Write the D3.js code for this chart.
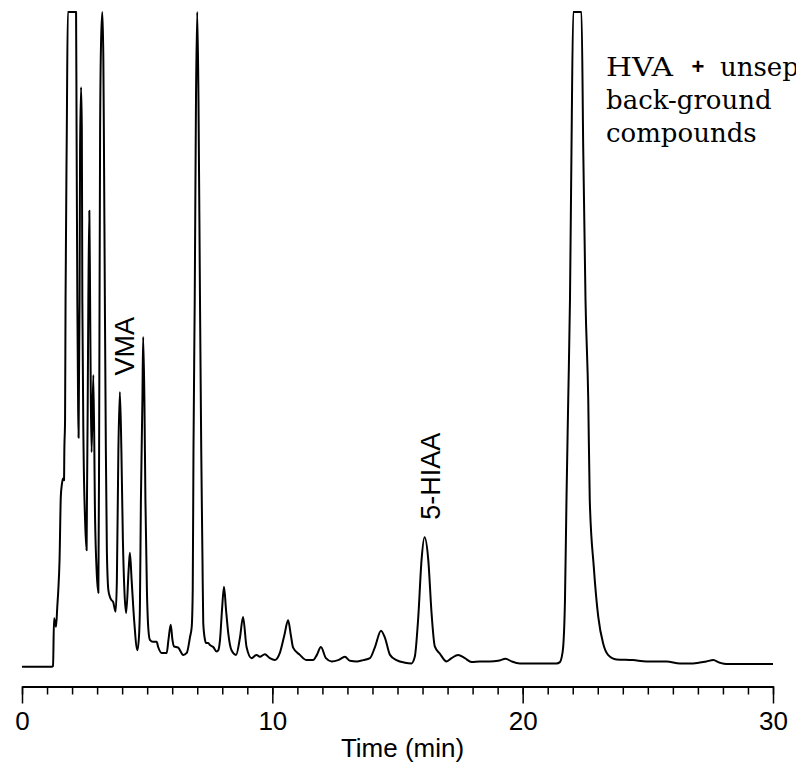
<!DOCTYPE html>
<html>
<head>
<meta charset="utf-8">
<script src="https://cdn.jsdelivr.net/npm/d3@7"></script>
<style>
  html, body { margin: 0; padding: 0; background: #fff; }
  svg { display: block; }
</style>
</head>
<body>
<svg id="chart" width="796" height="767"></svg>
<script>
// Retention time (min)
const timeMin = [
  0.00, 1.19, 1.24, 1.28, 1.36, 1.41, 1.45, 1.50, 1.55, 1.59, 1.65, 1.68, 1.69, 1.72, 1.74, 1.79, 1.83,
  2.16, 2.18, 2.21, 2.24, 2.26, 2.30, 2.32, 2.36, 2.39, 2.41, 2.46, 2.52, 2.58, 2.65, 2.69, 2.72, 2.75,
  2.78, 2.85, 2.92, 2.98, 3.05, 3.08, 3.12, 3.16, 3.21, 3.25, 3.27, 3.31, 3.35, 3.39, 3.45, 3.51, 3.57,
  3.64, 3.74, 3.79, 3.85, 3.91, 3.97, 4.03, 4.09, 4.16, 4.26, 4.31, 4.38, 4.48, 4.61, 4.68, 4.71, 4.75,
  4.81, 4.84, 4.89, 4.93, 4.99, 5.05, 5.11, 5.23, 5.38, 5.44, 5.58, 5.78, 5.85, 5.94, 6.01, 6.07, 6.24,
  6.44, 6.58, 6.71, 6.78, 6.82, 6.85, 6.90, 6.95, 7.00, 7.05, 7.11, 7.16, 7.21, 7.24, 7.31, 7.35, 7.44,
  7.51, 7.64, 7.78, 7.84, 7.91, 7.99, 8.07, 8.15, 8.24, 8.37, 8.55, 8.71, 8.83, 8.97, 9.17, 9.37, 9.50,
  9.70, 9.90, 10.10, 10.30, 10.48, 10.63, 10.74, 10.83, 11.10, 11.37, 11.63, 11.78, 11.94, 12.14, 12.37,
  12.63, 12.90, 13.10, 13.37, 13.63, 13.90, 14.10, 14.34, 14.50, 14.70, 14.96, 15.30, 15.56, 15.69, 15.83,
  15.96, 16.08, 16.23, 16.36, 16.49, 16.69, 16.96, 17.16, 17.42, 17.69, 17.96, 18.29, 18.69, 19.02, 19.32,
  19.56, 19.89, 20.69, 21.35, 21.49, 21.55, 21.62, 21.69, 21.75, 21.82, 21.89, 21.95, 22.02, 22.35, 22.42,
  22.51, 22.62, 22.68, 22.84, 23.02, 23.21, 23.41, 23.75, 24.41, 24.95, 25.75, 26.28, 26.81, 27.34, 27.61,
  27.88, 28.14, 29.21, 30.00
];
// Detector signal (relative units, 100 = detector/plot saturation)
const signal = [
  -0.1, -0.1, 0.0, 7.3, 6.0, 9.1, 11.6, 16.2, 25.9, 27.7, 28.7, 28.4, 32.6, 37.6, 56.0, 82.0, 100,
  100, 82.0, 56.0, 40.7, 34.9, 56.0, 78.9, 88.5, 82.0, 56.0, 33.0, 22.3, 17.7, 56.0, 69.6, 56.0, 40.7,
  32.7, 44.5, 22.3, 14.7, 11.2, 33.0, 82.0, 95.7, 100, 92.7, 82.0, 56.0, 33.0, 17.7, 11.6, 10.6, 10.1,
  9.8, 8.3, 13.1, 33.0, 41.9, 33.0, 19.3, 11.6, 8.1, 14.7, 17.3, 13.1, 7.0, 2.4, 5.0, 9.0, 25.4,
  40.7, 50.3, 40.7, 25.4, 11.6, 5.5, 4.0, 3.7, 3.7, 2.9, 2.0, 2.0, 4.0, 6.3, 4.0, 3.0, 2.8,
  1.7, 2.0, 4.4, 6.0, 11.6, 33.0, 56.0, 86.5, 100, 86.5, 56.0, 33.0, 16.2, 6.6, 4.0, 3.5, 3.5,
  3.2, 2.9, 2.2, 2.4, 4.0, 8.6, 12.1, 8.6, 5.0, 2.4, 1.7, 4.4, 7.5, 2.9, 1.2, 1.7, 1.4,
  1.8, 1.2, 0.9, 2.0, 4.7, 7.0, 4.7, 2.8, 1.7, 0.9, 0.9, 1.7, 2.9, 1.2, 0.7,
  0.9, 1.4, 0.8, 0.7, 0.9, 1.2, 2.9, 5.4, 4.3, 1.7, 0.9, 0.5, 0.4, 1.4, 7.5,
  16.2, 19.7, 16.2, 8.1, 3.0, 1.9, 0.7, 1.2, 1.7, 1.2, 0.6, 0.7, 0.7, 0.8, 1.1,
  0.7, 0.4, 0.4, 0.4, 0.6, 1.2, 3.0, 10.1, 25.4, 40.7, 56.0, 78.9, 100, 100, 78.9,
  56.0, 40.7, 25.4, 15.2, 7.5, 3.5, 1.7, 1.0, 0.9, 0.7, 0.7, 0.4, 0.4, 0.7, 0.9,
  0.5, 0.3, 0.3, 0.3
];

const minorTicks = d3.range(0, 31, 1);
const majorTicks = [0, 10, 20, 30];
const xTitle = "Time (min)";
const peakLabels = [
  { text: "VMA", t: 4.47, v: 48.9 },
  { text: "5-HIAA", t: 16.69, v: 29.0 }
];
const noteWords = ["HVA", "+", "unsep"];
const noteLines = ["back-ground", "compounds"];

const svg = d3.select("#chart");
const x = d3.scaleLinear().domain([0, 30]).range([22, 773]);
const y = d3.scaleLinear().domain([0, 100]).range([666, 12]);
const axisY = 686.5;

const pts = timeMin.map((t, i) => [t, signal[i]]);

svg.append("path")
  .datum(pts)
  .attr("fill", "none")
  .attr("stroke", "#000")
  .attr("stroke-width", 2)
  .attr("stroke-linejoin", "round")
  .attr("d", d3.line().x(d => x(d[0])).y(d => y(d[1])).curve(d3.curveMonotoneX));

// minor axis
const gMinor = svg.append("g").attr("transform", `translate(0,${axisY})`)
  .call(d3.axisBottom(x).tickValues(minorTicks).tickSize(8).tickSizeOuter(0).tickFormat(""));
// major axis
const gMajor = svg.append("g").attr("transform", `translate(0,${axisY})`)
  .call(d3.axisBottom(x).tickValues(majorTicks).tickSize(17).tickSizeOuter(0).tickPadding(8).tickFormat(d3.format("d")));

[gMinor, gMajor].forEach(g => {
  g.select(".domain").attr("stroke", "#000").attr("stroke-width", 2);
  g.selectAll(".tick line").attr("stroke", "#000").attr("stroke-width", 1.5);
});
gMajor.selectAll(".tick text")
  .attr("fill", "#000")
  .attr("font-family", "'Liberation Sans', Arial, sans-serif")
  .attr("font-size", 26);

svg.append("text")
  .attr("x", x(15) + 5)
  .attr("y", 757)
  .attr("text-anchor", "middle")
  .attr("font-family", "'Liberation Sans', Arial, sans-serif")
  .attr("font-size", 26)
  .text(xTitle);

peakLabels.forEach(p => {
  svg.append("text")
    .attr("transform", `translate(${x(p.t)},${y(p.v)}) rotate(-90)`)
    .attr("text-anchor", "middle")
    .attr("font-family", "'Liberation Sans', Arial, sans-serif")
    .attr("font-size", 27)
    .text(p.text);
});

const serif = "'DejaVu Serif', serif";
svg.append("text").attr("x", 606).attr("y", 76)
  .attr("font-family", serif).attr("font-size", 26).attr("textLength", 67).attr("lengthAdjust", "spacingAndGlyphs")
  .text(noteWords[0]);
svg.append("text").attr("x", 698).attr("y", 74).attr("text-anchor", "middle")
  .attr("font-family", "'Liberation Sans', sans-serif").attr("font-weight", "bold").attr("font-size", 22)
  .text(noteWords[1]);
svg.append("text").attr("x", 720).attr("y", 76)
  .attr("font-family", serif).attr("font-size", 26)
  .text(noteWords[2]);
svg.append("text").attr("x", 606).attr("y", 109)
  .attr("font-family", serif).attr("font-size", 26)
  .text(noteLines[0]);
svg.append("text").attr("x", 606).attr("y", 142)
  .attr("font-family", serif).attr("font-size", 26)
  .text(noteLines[1]);
</script>
</body>
</html>
